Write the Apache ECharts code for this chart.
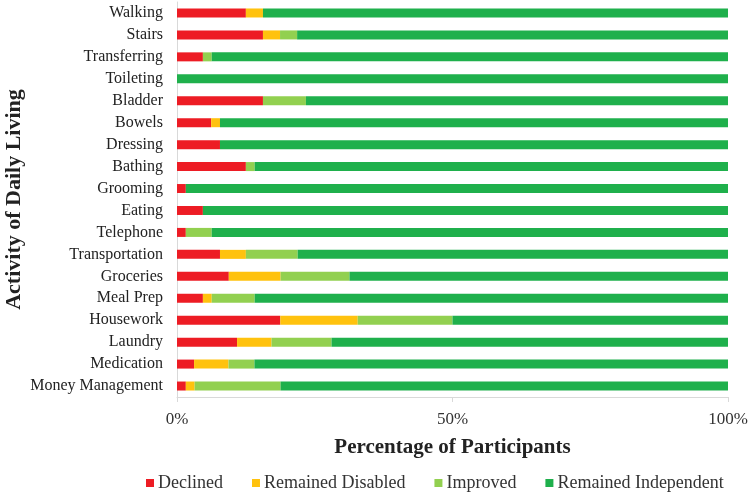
<!DOCTYPE html>
<html><head><meta charset="utf-8">
<script src="https://cdn.jsdelivr.net/npm/echarts@6/dist/echarts.min.js"></script>
<style>html,body{margin:0;padding:0;background:#fff}#c{width:751px;height:496px}</style>
</head><body><div id="c"></div>
<script>
const categories = ["Walking","Stairs","Transferring","Toileting","Bladder","Bowels","Dressing","Bathing","Grooming","Eating","Telephone","Transportation","Groceries","Meal Prep","Housework","Laundry","Medication","Money Management"];
const declined =    [12.5,15.6,4.7,0,15.6,6.2,7.8,12.5,1.6,4.7,1.6,7.8,9.4,4.7,18.75,10.9,3.1,1.6];
const disabled =    [3.1,3.1,0,0,0,1.6,0,0,0,0,0,4.7,9.4,1.6,14.05,6.25,6.25,1.6];
const improved =    [0,3.1,1.6,0,7.8,0,0,1.6,0,0,4.7,9.4,12.5,7.8,17.2,10.9,4.7,15.6];
const independent = [84.4,78.2,93.7,100,76.6,92.2,92.2,85.9,98.4,95.3,93.7,78.1,68.7,85.9,50,72.0,85.95,81.2];
const xTicks = ["0%","50%","100%"];

const font = "Liberation Serif";
const chart = echarts.init(document.getElementById('c'));
function s(name, data, color){
  return {name, type:'bar', stack:'a', data, barWidth:9, itemStyle:{color}, emphasis:{disabled:true}};
}
chart.setOption({
  animation:false,
  textStyle:{fontFamily:font},
  grid:{left:177, right:23, top:2, bottom:99, containLabel:false, outerBoundsMode:'none'},
  xAxis:{type:'value', min:0, max:100, interval:50,
    axisLine:{show:true, lineStyle:{color:'#d9d9d9'}},
    axisTick:{show:true, length:5, lineStyle:{color:'#d9d9d9'}},
    splitLine:{show:false},
    axisLabel:{formatter:(v)=>xTicks[v/50], color:'#333', fontSize:17, fontFamily:font, margin:14},
    name:'Percentage of Participants', nameLocation:'middle', nameGap:40, nameMoveOverlap:false,
    nameTextStyle:{fontSize:21, fontWeight:'bold', color:'#222', fontFamily:font}
  },
  yAxis:{type:'category', data:categories, inverse:true,
    axisLine:{show:true, lineStyle:{color:'#d9d9d9'}},
    axisTick:{show:false},
    axisLabel:{color:'#222', fontSize:16, fontFamily:font, margin:14},
    name:'Activity of Daily Living', nameLocation:'middle', nameGap:152, nameRotate:90, nameMoveOverlap:false,
    nameTextStyle:{fontSize:22, fontWeight:'bold', color:'#222', fontFamily:font}
  },
  legend:{top:474, left:146, padding:0, itemWidth:8, itemHeight:8, itemGap:29, icon:'rect',
    textStyle:{fontSize:18, color:'#333', fontFamily:font, padding:[0,0,0,-1]},
    data:['Declined','Remained Disabled','Improved','Remained Independent']},
  series:[
    s('Declined', declined, '#ED1C24'),
    s('Remained Disabled', disabled, '#FFC20E'),
    s('Improved', improved, '#92D050'),
    s('Remained Independent', independent, '#1FB04C')
  ]
});
</script></body></html>
